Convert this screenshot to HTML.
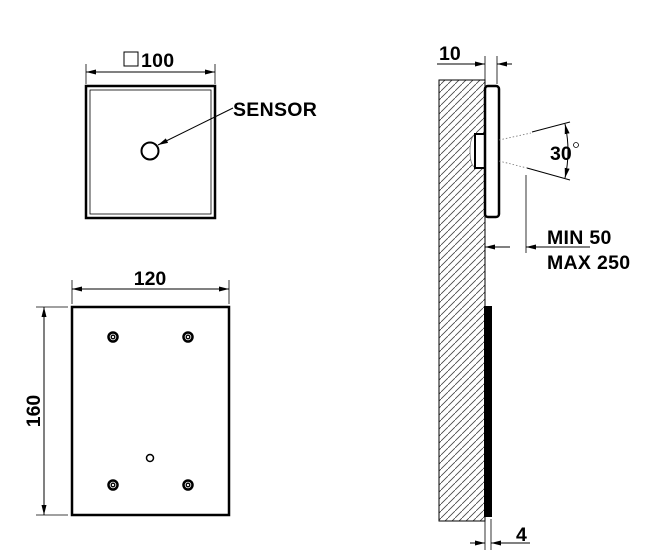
<!DOCTYPE html>
<html><head><style>body{margin:0;background:#fff}svg{display:block}</style></head><body>
<svg width="656" height="560" viewBox="0 0 656 560" xmlns="http://www.w3.org/2000/svg" font-family="Liberation Sans, sans-serif" font-weight="bold">
<defs>
<marker id="a" viewBox="0 0 10 6" refX="10" refY="3" markerWidth="10" markerHeight="6" orient="auto-start-reverse" markerUnits="userSpaceOnUse"><path d="M0,0.5 L10,3 L0,5.5z" fill="#000"/></marker>
<pattern id="h" width="7" height="7" patternUnits="userSpaceOnUse"><path d="M-1,8 L8,-1" stroke="#444" stroke-width="0.8"/></pattern>
</defs>
<!-- top square -->
<line x1="86" y1="64" x2="86" y2="84" stroke="#000" stroke-width="0.8"/>
<line x1="215" y1="64" x2="215" y2="84" stroke="#000" stroke-width="0.8"/>
<line x1="86" y1="72" x2="215" y2="72" stroke="#000" stroke-width="1" marker-start="url(#a)" marker-end="url(#a)"/>
<rect x="124" y="52" width="14" height="14" fill="none" stroke="#000" stroke-width="1"/>
<text x="141" y="67" font-size="19.5" letter-spacing="0.3">100</text>
<rect x="86" y="86" width="129" height="132" fill="none" stroke="#000" stroke-width="2.5"/>
<rect x="90" y="90" width="121" height="124" fill="none" stroke="#000" stroke-width="0.8"/>
<circle cx="150" cy="151" r="8.5" fill="none" stroke="#000" stroke-width="2"/>
<line x1="233" y1="108" x2="158" y2="145" stroke="#000" stroke-width="1" marker-end="url(#a)"/>
<text x="233" y="116" font-size="19.5" letter-spacing="0.3">SENSOR</text>
<!-- bottom rect -->
<line x1="72" y1="280" x2="72" y2="304" stroke="#000" stroke-width="0.8"/>
<line x1="229" y1="280" x2="229" y2="304" stroke="#000" stroke-width="0.8"/>
<line x1="72" y1="289" x2="229" y2="289" stroke="#000" stroke-width="1" marker-start="url(#a)" marker-end="url(#a)"/>
<text x="150" y="285" font-size="19.5" text-anchor="middle">120</text>
<line x1="36" y1="307" x2="68" y2="307" stroke="#000" stroke-width="0.8"/>
<line x1="36" y1="515" x2="68" y2="515" stroke="#000" stroke-width="0.8"/>
<line x1="44" y1="307" x2="44" y2="515" stroke="#000" stroke-width="1" marker-start="url(#a)" marker-end="url(#a)"/>
<text transform="translate(40,411) rotate(-90)" font-size="19.5" text-anchor="middle">160</text>
<rect x="72" y="307" width="157" height="208" fill="none" stroke="#000" stroke-width="2.5"/>
<g fill="none" stroke="#000">
<circle cx="113" cy="337" r="4.5" stroke-width="2.5"/><circle cx="113" cy="337" r="1.8" stroke-width="1.3"/>
<circle cx="188" cy="337" r="4.5" stroke-width="2.5"/><circle cx="188" cy="337" r="1.8" stroke-width="1.3"/>
<circle cx="113" cy="485" r="4.5" stroke-width="2.5"/><circle cx="113" cy="485" r="1.8" stroke-width="1.3"/>
<circle cx="188" cy="485" r="4.5" stroke-width="2.5"/><circle cx="188" cy="485" r="1.8" stroke-width="1.3"/>
<circle cx="150" cy="458" r="3.5" stroke-width="1.5"/>
</g>
<!-- side view -->
<rect x="439" y="80" width="46" height="441" fill="url(#h)" stroke="#000" stroke-width="1"/>
<path d="M484,134 L476,134 Q470,136 470,151 Q470,166 476,168 L484,168" fill="#fff" stroke="#777" stroke-width="0.8"/>
<rect x="475" y="134" width="10" height="34" fill="#fff" stroke="#000" stroke-width="2"/>
<rect x="485" y="86" width="14" height="131" rx="3" fill="#fff" stroke="#000" stroke-width="2.5"/>
<line x1="499" y1="140" x2="531" y2="133" stroke="#777" stroke-width="0.8" stroke-dasharray="1.5,2"/>
<line x1="499" y1="161" x2="527" y2="168" stroke="#777" stroke-width="0.8" stroke-dasharray="1.5,2"/>
<line x1="532" y1="132" x2="570" y2="122" stroke="#000" stroke-width="1"/>
<line x1="527" y1="168" x2="570" y2="180" stroke="#000" stroke-width="1"/>
<path d="M565,124 Q571,151 565,178" fill="none" stroke="#000" stroke-width="1" marker-start="url(#a)" marker-end="url(#a)"/>
<text x="550" y="160" font-size="19.5">30</text>
<circle cx="576" cy="145" r="2.5" fill="none" stroke="#000" stroke-width="0.8"/>
<line x1="485" y1="56" x2="485" y2="86" stroke="#000" stroke-width="0.8"/>
<line x1="497" y1="56" x2="497" y2="84" stroke="#000" stroke-width="0.8"/>
<line x1="437" y1="64" x2="485" y2="64" stroke="#000" stroke-width="1" marker-end="url(#a)"/>
<line x1="512" y1="64" x2="497" y2="64" stroke="#000" stroke-width="1" marker-end="url(#a)"/>
<text x="439" y="60" font-size="19.5">10</text>
<line x1="526" y1="175" x2="526" y2="253" stroke="#000" stroke-width="0.8"/>
<line x1="510" y1="247" x2="485" y2="247" stroke="#000" stroke-width="1" marker-end="url(#a)"/>
<line x1="590" y1="247" x2="526" y2="247" stroke="#000" stroke-width="1" marker-end="url(#a)"/>
<text x="547" y="244" font-size="19.5" letter-spacing="0.3">MIN 50</text>
<text x="547" y="269" font-size="19.5" letter-spacing="0.3">MAX 250</text>
<rect x="484" y="306" width="8" height="211" fill="#000"/>
<line x1="485" y1="517" x2="485" y2="550" stroke="#000" stroke-width="0.8"/>
<line x1="491" y1="519" x2="491" y2="550" stroke="#000" stroke-width="0.8"/>
<line x1="470" y1="543" x2="485" y2="543" stroke="#000" stroke-width="1" marker-end="url(#a)"/>
<line x1="530" y1="543" x2="491" y2="543" stroke="#000" stroke-width="1" marker-end="url(#a)"/>
<text x="516" y="541" font-size="19.5">4</text>
</svg>
</body></html>
